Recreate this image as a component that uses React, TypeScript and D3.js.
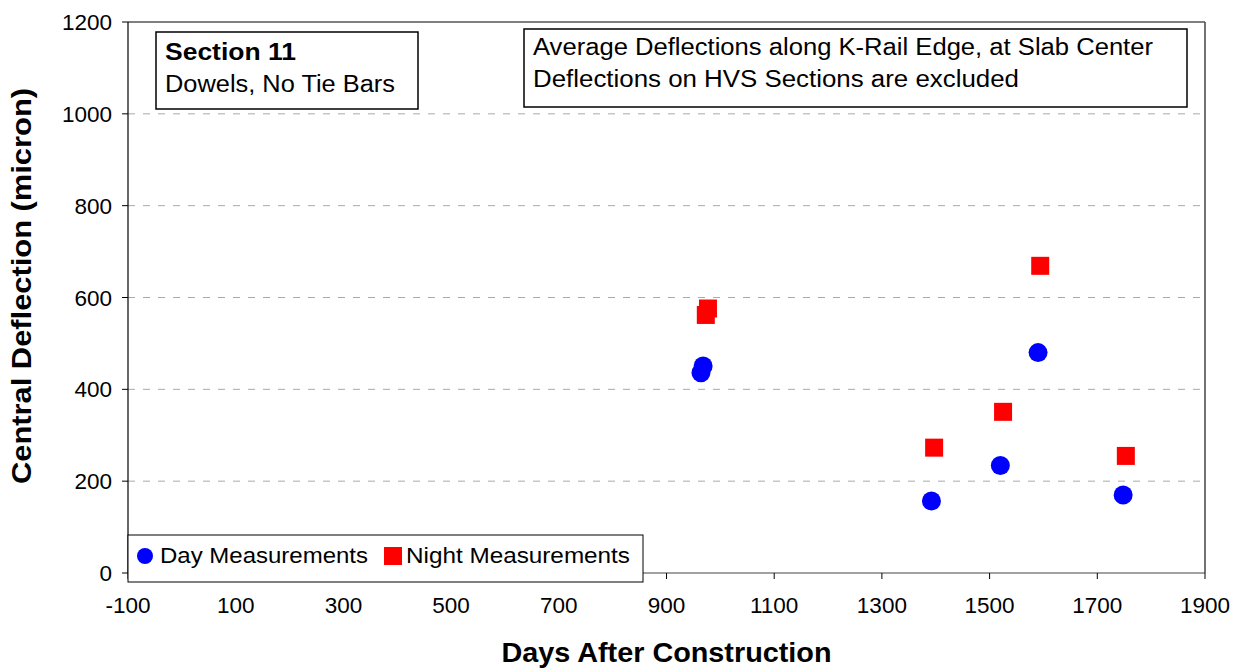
import React from "react";
import * as d3 from "d3";

const dayDays = [964, 968, 1392, 1520, 1590, 1748];
const dayDeflection = [436, 451, 157, 234, 480, 170];
const nightDays = [973, 977, 1397, 1525, 1594, 1753];
const nightDeflection = [562, 576, 273, 351, 669, 255];
const xTicks = [-100, 100, 300, 500, 700, 900, 1100, 1300, 1500, 1700, 1900];
const yTicks = [0, 200, 400, 600, 800, 1000, 1200];

const W = 1239;
const H = 669;
const M = { left: 128, right: 1205, top: 22, bottom: 573 };
const FONT = "'Liberation Sans', Arial, sans-serif";

export default function App() {
  const x = d3.scaleLinear().domain([-100, 1900]).range([M.left, M.right]);
  const y = d3.scaleLinear().domain([0, 1200]).range([M.bottom, M.top]);
  const day = dayDays.map((d, i) => ({ x: d, y: dayDeflection[i] }));
  const night = nightDays.map((d, i) => ({ x: d, y: nightDeflection[i] }));
  const sq = 18;

  return (
    <svg
      width={W}
      height={H}
      style={{ position: "absolute", left: 0, top: 0, fontFamily: FONT }}
    >
      <rect x={0} y={0} width={W} height={H} fill="#fff" />
      {yTicks
        .filter((t) => t > 0 && t < 1200)
        .map((t) => (
          <line
            key={"g" + t}
            x1={M.left}
            x2={M.right}
            y1={y(t)}
            y2={y(t)}
            stroke="#aaa"
            strokeWidth={1}
            strokeDasharray="7,8"
          />
        ))}
      <line x1={M.left} x2={M.right} y1={M.top} y2={M.top} stroke="#000" strokeWidth={1.2} />
      <line x1={M.right} x2={M.right} y1={M.top} y2={M.bottom} stroke="#444" strokeWidth={1.5} />
      <line x1={M.left} x2={M.right} y1={M.bottom} y2={M.bottom} stroke="#444" strokeWidth={1.2} />
      <line x1={M.left} x2={M.left} y1={M.top} y2={M.bottom} stroke="#000" strokeWidth={1.2} />
      {yTicks.map((t) => (
        <g key={"y" + t}>
          <line x1={M.left - 6} x2={M.left} y1={y(t)} y2={y(t)} stroke="#000" />
          <text
            x={M.left - 16}
            y={y(t) + 8}
            textAnchor="end"
            fontSize={22.5}
            fill="#000"
          >
            {t}
          </text>
        </g>
      ))}
      {xTicks.map((t) => (
        <g key={"x" + t}>
          <line x1={x(t)} x2={x(t)} y1={M.bottom} y2={M.bottom + 6} stroke="#000" />
          <text x={x(t)} y={M.bottom + 40} textAnchor="middle" fontSize={22.5} fill="#000">
            {t}
          </text>
        </g>
      ))}
      <text
        x={(M.left + M.right) / 2}
        y={662}
        textAnchor="middle"
        fontSize={27}
        fontWeight="bold"
        fill="#000"
        textLength={330}
        lengthAdjust="spacingAndGlyphs"
      >
        Days After Construction
      </text>
      <text
        transform={`translate(31,${286}) rotate(-90)`}
        textAnchor="middle"
        fontSize={27}
        fontWeight="bold"
        fill="#000"
        textLength={396}
        lengthAdjust="spacingAndGlyphs"
      >
        Central Deflection (micron)
      </text>
      {day.map((d, i) => (
        <circle key={"d" + i} cx={x(d.x)} cy={y(d.y)} r={9.5} fill="#0000ff" />
      ))}
      {night.map((d, i) => (
        <rect
          key={"n" + i}
          x={x(d.x) - sq / 2}
          y={y(d.y) - sq / 2}
          width={sq}
          height={sq}
          fill="#ff0000"
        />
      ))}
      <rect x={156} y={32} width={262} height={77} fill="#fff" stroke="#000" strokeWidth={1.5} />
      <text x={165} y={60} fontSize={23} fontWeight="bold" fill="#000" textLength={131} lengthAdjust="spacingAndGlyphs">
        Section 11
      </text>
      <text x={165} y={92} fontSize={23} fill="#000" textLength={230} lengthAdjust="spacingAndGlyphs">
        Dowels, No Tie Bars
      </text>
      <rect x={524} y={29} width={663} height={78} fill="#fff" stroke="#000" strokeWidth={1.5} />
      <text x={533} y={55} fontSize={23} fill="#000" textLength={620} lengthAdjust="spacingAndGlyphs">
        Average Deflections along K-Rail Edge, at Slab Center
      </text>
      <text x={533} y={87} fontSize={23} fill="#000" textLength={486} lengthAdjust="spacingAndGlyphs">
        Deflections on HVS Sections are excluded
      </text>
      <rect x={128} y={535} width={515} height={47} fill="#fff" stroke="#000" strokeWidth={1} />
      <circle cx={145} cy={556} r={8} fill="#0000ff" />
      <text x={160} y={563} fontSize={22} fill="#000" textLength={208} lengthAdjust="spacingAndGlyphs">
        Day Measurements
      </text>
      <rect x={384} y={547} width={18} height={18} fill="#ff0000" />
      <text x={406} y={563} fontSize={22} fill="#000" textLength={224} lengthAdjust="spacingAndGlyphs">
        Night Measurements
      </text>
    </svg>
  );
}
